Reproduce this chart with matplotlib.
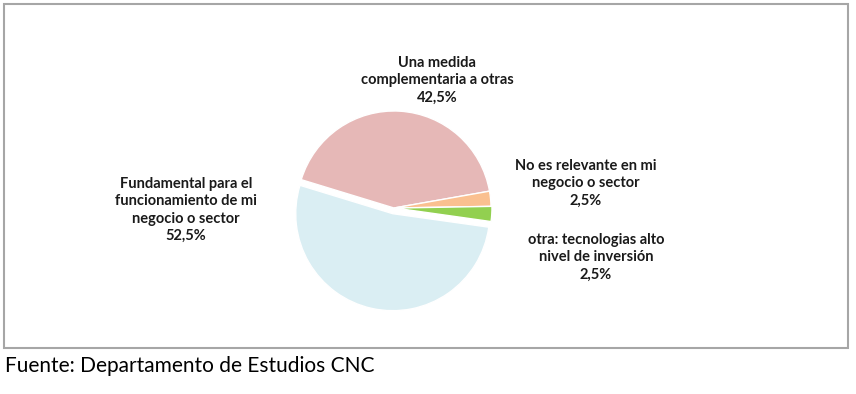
import matplotlib
matplotlib.use("Agg")
import matplotlib.pyplot as plt
from matplotlib.patches import Rectangle

# data (clockwise from start angle)
labels = [
    "Fundamental para el\nfuncionamiento de mi\nnegocio o sector",
    "Una medida\ncomplementaria a otras",
    "No es relevante en mi\nnegocio o sector",
    "otra: tecnologias alto\nnivel de inversión",
]
values = [52.5, 42.5, 2.5, 2.5]
pct_text = ["52,5%", "42,5%", "2,5%", "2,5%"]
colors = ["#DAEEF3", "#E6B8B7", "#FAC090", "#92D050"]
explode = [0.06, 0, 0, 0.01]

# label centres in pixels (x, top y)
label_pos = [(186, 177), (437, 56), (586, 159), (596, 233)]

W, H = 856, 394
fig = plt.figure(figsize=(W / 100, H / 100), dpi=100)

# chart border
fig.patches.append(Rectangle((4 / W, 1 - 348 / H), 844 / W, 344 / H,
                             transform=fig.transFigure, fill=False,
                             edgecolor="#A6A6A6", linewidth=1.5))

cx, cy, r = 394, 208, 97
half = 125
ax = fig.add_axes([(cx - half) / W, 1 - (cy + half) / H, 2 * half / W, 2 * half / H])
ax.pie(values, colors=colors, startangle=352, counterclock=False, explode=explode,
       wedgeprops=dict(edgecolor="white", linewidth=1))
lim = half / r
ax.set_xlim(-lim, lim)
ax.set_ylim(-lim, lim)
ax.set_aspect("equal")
ax.axis("off")

for lab, pct, (x, y) in zip(labels, pct_text, label_pos):
    fig.text(x / W, 1 - y / H, lab + "\n" + pct, ha="center", va="top",
             fontsize=10.5, fontweight="bold", family="Lato", color="#1a1a1a",
             linespacing=1.3)

fig.text(5 / W, 1 - 366 / H, "Fuente: Departamento de Estudios CNC", ha="left",
         va="center", fontsize=15, family="Lato", color="black")

fig.savefig("out.png", dpi=100)
